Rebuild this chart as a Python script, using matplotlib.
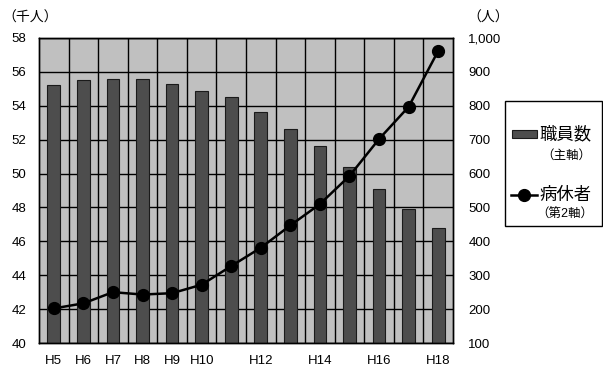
import matplotlib
matplotlib.use("Agg")
import matplotlib.pyplot as plt
from matplotlib.patches import Rectangle
from matplotlib.lines import Line2D

plt.rcParams['font.family'] = ['Liberation Sans', 'Noto Sans CJK JP', 'DejaVu Sans']

years = ['H5', 'H6', 'H7', 'H8', 'H9', 'H10', 'H11', 'H12',
         'H13', 'H14', 'H15', 'H16', 'H17', 'H18']
shown_labels = ['H5', 'H6', 'H7', 'H8', 'H9', 'H10', 'H12', 'H14', 'H16', 'H18']
staff = [55.2, 55.5, 55.6, 55.6, 55.3, 54.85, 54.5, 53.65,
         52.65, 51.6, 50.4, 49.1, 47.9, 46.8]          # 千人
sick = [202, 217, 250, 243, 247, 272, 327, 381,
        447, 510, 593, 702, 797, 962]                   # 人

W, H = 603, 372
fig = plt.figure(figsize=(W / 100, H / 100), dpi=100)
ax = fig.add_axes([39 / W, 1 - 343 / H, (453 - 39) / W, (343 - 38) / H])
ax.set_facecolor('#c0c0c0')

x = list(range(len(years)))
ax.bar(x, staff, width=0.43, color='#4d4d4d', edgecolor='#1a1a1a',
       linewidth=0.8, bottom=0, zorder=2)
ax.set_ylim(40, 58)
ax.set_yticks(range(40, 59, 2))
ax.set_xlim(-0.5, len(years) - 0.5)
ax.set_xticks(x)
ax.set_xticklabels([y if y in shown_labels else '' for y in years])
ax.set_xticks([i - 0.5 for i in range(1, len(years))], minor=True)
ax.set_axisbelow(True)
ax.grid(axis='y', color='black', linewidth=1)
ax.grid(axis='x', which='minor', color='black', linewidth=1)
ax.tick_params(axis='both', which='both', length=0, labelsize=9.5)
ax.tick_params(axis='y', pad=9)
ax.tick_params(axis='x', pad=9)
for s in ax.spines.values():
    s.set_color('black')
    s.set_linewidth(1)

ax2 = ax.twinx()
ax2.plot(x, sick, color='black', linewidth=1.8, marker='o', markersize=8.5, zorder=3)
ax2.set_ylim(100, 1000)
ax2.set_yticks(range(100, 1001, 100))
ax2.set_yticklabels([f'{v:,}' for v in range(100, 1001, 100)])
ax2.tick_params(axis='y', length=0, pad=11, labelsize=9.5)
for s in ax2.spines.values():
    s.set_color('black')
    s.set_linewidth(1)

fig.text(2 / W, 1 - 18 / H, '（千人）', fontsize=10, va='center', ha='left')
fig.text(467 / W, 1 - 18 / H, '（人）', fontsize=10, va='center', ha='left')

# legend box
fig.add_artist(Rectangle((505 / W, 1 - 226 / H), (602 - 505) / W, (226 - 101) / H,
                         transform=fig.transFigure, facecolor='white',
                         edgecolor='black', linewidth=1))
fig.add_artist(Rectangle((512 / W, 1 - 138 / H), 25 / W, 8 / H,
                         transform=fig.transFigure, facecolor='#4d4d4d',
                         edgecolor='#1a1a1a', linewidth=0.8))
fig.text(539 / W, 1 - 134 / H, '職員数', fontsize=12.5, va='center', ha='left')
fig.text(541 / W, 1 - 156 / H, '（主軸）', fontsize=9, va='center', ha='left')
fig.add_artist(Line2D([511 / W, 537 / W], [1 - 195 / H, 1 - 195 / H],
                      transform=fig.transFigure, color='black', linewidth=1.8))
fig.add_artist(Line2D([524 / W], [1 - 195 / H], transform=fig.transFigure,
                      color='black', marker='o', markersize=8.5))
fig.text(539 / W, 1 - 195 / H, '病休者', fontsize=12.5, va='center', ha='left')
fig.text(536 / W, 1 - 215 / H, '（第2軸）', fontsize=9, va='center', ha='left')

fig.savefig('out.png', dpi=100)
